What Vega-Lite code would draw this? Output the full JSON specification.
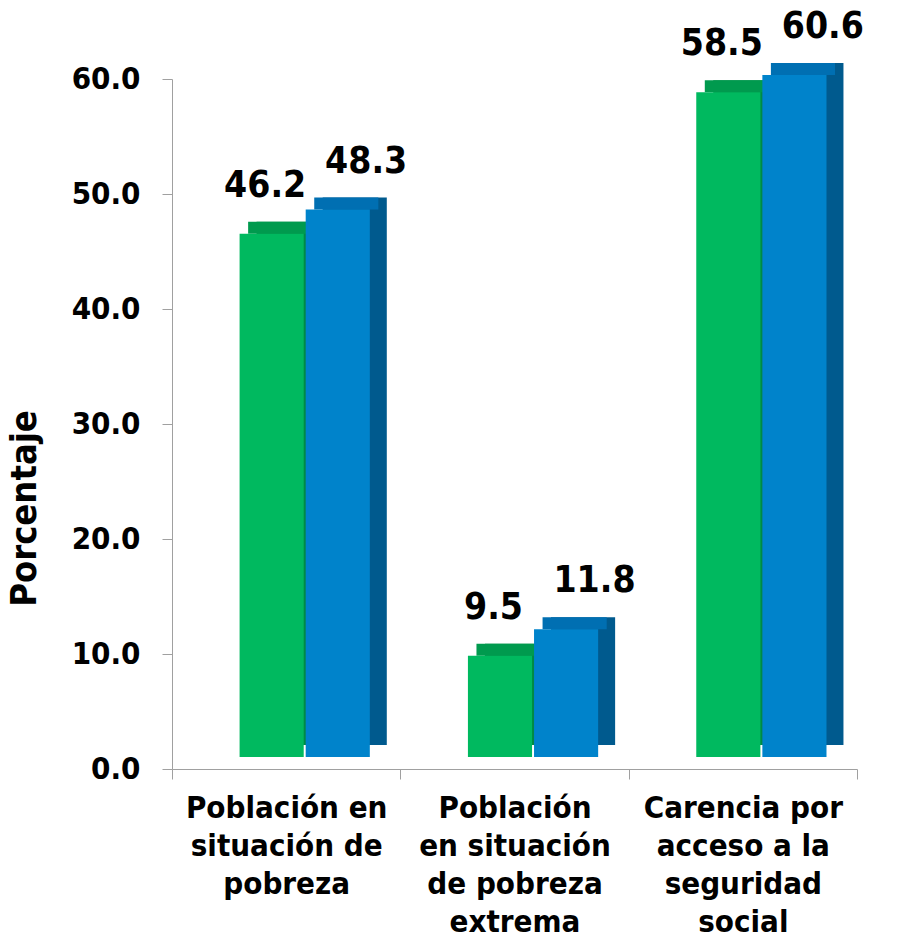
{
  "$schema": "https://vega.github.io/schema/vega-lite/v6.json",
  "width": 685,
  "height": 690,
  "autosize": "none",
  "padding": {"left": 172, "top": 79, "right": 55, "bottom": 171},
  "background": "white",
  "config": {"view": {"stroke": null}, "font": "DejaVu Sans Condensed"},
  "data": {
    "values": [
      {"cat": "Población en|situación de|pobreza", "serie": "Serie 1", "value": 46.2},
      {"cat": "Población en|situación de|pobreza", "serie": "Serie 2", "value": 48.3},
      {"cat": "Población|en situación|de pobreza|extrema", "serie": "Serie 1", "value": 9.5},
      {"cat": "Población|en situación|de pobreza|extrema", "serie": "Serie 2", "value": 11.8},
      {"cat": "Carencia por|acceso a la|seguridad|social", "serie": "Serie 1", "value": 58.5},
      {"cat": "Carencia por|acceso a la|seguridad|social", "serie": "Serie 2", "value": 60.6}
    ]
  },
  "encoding": {
    "x": {
      "field": "cat", "type": "nominal", "sort": null,
      "scale": {"paddingInner": 0, "paddingOuter": 0},
      "axis": {
        "title": null, "labelAngle": 0, "labelExpr": "split(datum.label, '|')", "labelLimit": 0,
        "labelFontSize": 31, "labelFontWeight": "bold", "labelColor": "black",
        "labelLineHeight": 38, "labelPadding": 14, "labelBaseline": "top",
        "domainColor": "#A0A0A0", "tickColor": "#A0A0A0", "tickSize": 10, "tickBand": "extent",
        "labelFont": "DejaVu Sans Condensed"
      }
    },
    "y": {
      "field": "value", "type": "quantitative",
      "scale": {"domain": [0, 60], "clamp": true, "nice": false},
      "axis": {
        "values": [0, 10, 20, 30, 40, 50, 60], "format": ".1f", "grid": false,
        "labelFontSize": 31, "labelFontWeight": "bold", "labelColor": "black", "labelPadding": 22,
        "domainColor": "#A0A0A0", "tickColor": "#A0A0A0", "tickSize": 10,
        "title": "Porcentaje", "titleFontSize": 36, "titleFontWeight": "bold", "titleColor": "black", "titlePadding": 28,
        "titleY": 429,
        "labelFont": "DejaVu Sans Condensed", "titleFont": "DejaVu Sans Condensed"
      }
    }
  },
  "layer": [
    {
      "mark": {"type": "bar", "yOffset": -16, "y2Offset": -24},
      "encoding": {
        "xOffset": {"field": "serie", "type": "nominal", "sort": null, "scale": {"paddingInner": 0.03, "paddingOuter": 0.742, "align": 0.862}},
        "y2": {"datum": 0},
        "color": {"condition": {"test": "datum.serie === 'Serie 1'", "value": "#008A45"}, "value": "#005A8E"}
      }
    },
    {
      "mark": {"type": "bar", "yOffset": -16, "y2Offset": -4},
      "encoding": {
        "xOffset": {"field": "serie", "type": "nominal", "sort": null, "scale": {"paddingInner": 0.03, "paddingOuter": 0.742, "align": 0.776}},
        "y2": {"field": "value"},
        "color": {"condition": {"test": "datum.serie === 'Serie 1'", "value": "#009A4E"}, "value": "#006FB2"}
      }
    },
    {
      "mark": {"type": "bar", "yOffset": -4, "y2Offset": -12},
      "encoding": {
        "xOffset": {"field": "serie", "type": "nominal", "sort": null, "scale": {"paddingInner": 0.03, "paddingOuter": 0.742, "align": 0.689}},
        "y2": {"datum": 0},
        "color": {"condition": {"test": "datum.serie === 'Serie 1'", "value": "#00B95F"}, "value": "#0083CB"}
      }
    },
    {
      "transform": [{"filter": "datum.serie === 'Serie 1'"}],
      "mark": {"type": "text", "dx": -21, "dy": -41, "baseline": "alphabetic", "fontSize": 37, "fontWeight": "bold", "color": "black", "font": "DejaVu Sans Condensed"},
      "encoding": {
        "text": {"field": "value", "type": "quantitative", "format": ".1f"}
      }
    },
    {
      "transform": [{"filter": "datum.serie === 'Serie 2'"}],
      "mark": {"type": "text", "dx": 80, "dy": -41, "baseline": "alphabetic", "fontSize": 37, "fontWeight": "bold", "color": "black", "font": "DejaVu Sans Condensed"},
      "encoding": {
        "text": {"field": "value", "type": "quantitative", "format": ".1f"}
      }
    }
  ],
  "resolve": {"scale": {"xOffset": "independent"}}
}
